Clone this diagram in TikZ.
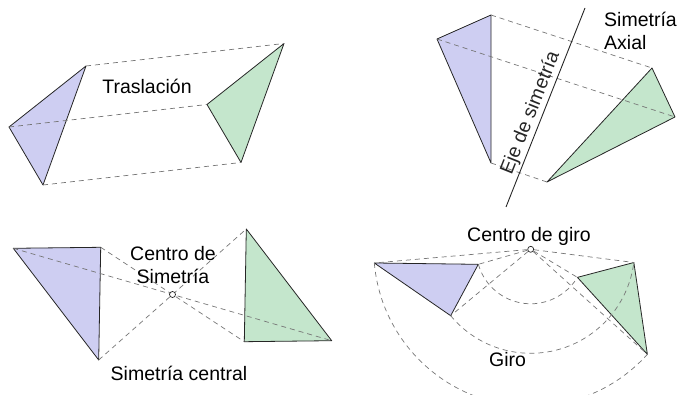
\documentclass[tikz,border=0pt]{standalone}
\usepackage{fontspec}
\setmainfont{Liberation Sans}
\usetikzlibrary{calc}

\definecolor{triblue}{RGB}{206,206,242}
\definecolor{trigreen}{RGB}{196,230,204}
\definecolor{guidegray}{RGB}{118,118,118}

\tikzset{
  bluetri/.style={fill=triblue, draw=black!85, line width=0.8pt, line join=round},
  greentri/.style={fill=trigreen, draw=black!85, line width=0.8pt, line join=round},
  guide/.style={draw=guidegray, dash pattern=on 5pt off 4pt, line width=0.7pt},
  lbl/.style={font=\fontsize{19.5}{23.5}\selectfont, inner sep=0pt, align=center},
  dot/.style={circle, draw=black!85, fill=white, inner sep=0pt, minimum size=6pt, line width=0.7pt}
}

\begin{document}
\begin{tikzpicture}[x=1pt, y=-1pt]
    \useasboundingbox (0,0) rectangle (680,395);
    \clip (0,0) rectangle (680,395);

    % Traslacion
    \coordinate (t1) at (86,66);
    \coordinate (t2) at (9,127);
    \coordinate (t3) at (43,185);
    \coordinate (T1) at ($(t1)+(198,-22.5)$);
    \coordinate (T2) at ($(t2)+(198,-22.5)$);
    \coordinate (T3) at ($(t3)+(198,-22.5)$);

    \filldraw[bluetri] (t1) -- (t2) -- (t3) -- cycle;
    \filldraw[greentri] (T1) -- (T2) -- (T3) -- cycle;

    \draw[guide] (t1) -- (T1);
    \draw[guide] (t2) -- (T2);
    \draw[guide] (t3) -- (T3);

    \node[lbl] (tras) at (147,86) {Traslación};

    % Simetria axial
    \coordinate (a1) at (491,15);
    \coordinate (a2) at (437,39);
    \coordinate (a3) at (491,163);
    \coordinate (A1) at (652,68);
    \coordinate (A2) at (675,117);
    \coordinate (A3) at (547,182);
    \coordinate (axTop) at (585,8);
    \coordinate (axBot) at (506,207);

    \filldraw[bluetri] (a1) -- (a2) -- (a3) -- cycle;
    \filldraw[greentri] (A1) -- (A2) -- (A3) -- cycle;

    \draw[guide] (a1) -- (A1);
    \draw[guide] (a2) -- (A2);
    \draw[guide] (a3) -- (A3);

    \draw[black!85, line width=0.9pt] (axBot) -- (axTop)
        node[lbl, pos=0.45, sloped, above=2pt] (eje) {Eje de simetría};

    \node[lbl, align=left, anchor=west] (axial) at (604,31) {Simetría\\Axial};

    % Simetria central
    \coordinate (c) at (172.5,294.5);
    \coordinate (s1) at (13.3,248.3);
    \coordinate (s2) at (100.7,247.3);
    \coordinate (s3) at (98.7,360);
    \coordinate (S1) at ($(s1)!2!(c)$);
    \coordinate (S2) at ($(s2)!2!(c)$);
    \coordinate (S3) at ($(s3)!2!(c)$);

    \filldraw[bluetri] (s1) -- (s2) -- (s3) -- cycle;
    \filldraw[greentri] (S1) -- (S2) -- (S3) -- cycle;

    \draw[guide] (s1) -- (S1);
    \draw[guide] (s2) -- (S2);
    \draw[guide] (s3) -- (S3);
    \node[dot] (cs) at (c) {};

    \node[lbl] (centro) at (173,265) {Centro de\\Simetría};
    \node[lbl] (central) at (179,373) {Simetría central};

    % Giro
    \coordinate (O) at (530.7,249.3);
    \coordinate (g1) at ($(O)+(175:157)$);
    \coordinate (g2) at ($(O)+(164:54.5)$);
    \coordinate (g3) at ($(O)+(140.3:104)$);
    \coordinate (G1) at ($(O)+(42:157)$);
    \coordinate (G2) at ($(O)+(31:54.5)$);
    \coordinate (G3) at ($(O)+(7.3:104)$);

    \filldraw[bluetri] (g1) -- (g2) -- (g3) -- cycle;
    \filldraw[greentri] (G1) -- (G2) -- (G3) -- cycle;

    \node[dot] (cg) at (O) {};
    \foreach \v in {g1,g2,g3,G1,G2,G3}
        \draw[guide] (cg) -- (\v);

    \draw[guide] (g1) arc[start angle=175, end angle=42, radius=157];
    \draw[guide] (g2) arc[start angle=164, end angle=31, radius=54.5];
    \draw[guide] (g3) arc[start angle=140.3, end angle=7.3, radius=104];

    \node[lbl] (cgiro) at (529,236) {Centro de giro};
    \node[lbl] (giro) at (507.5,360) {Giro};
\end{tikzpicture}
\end{document}
